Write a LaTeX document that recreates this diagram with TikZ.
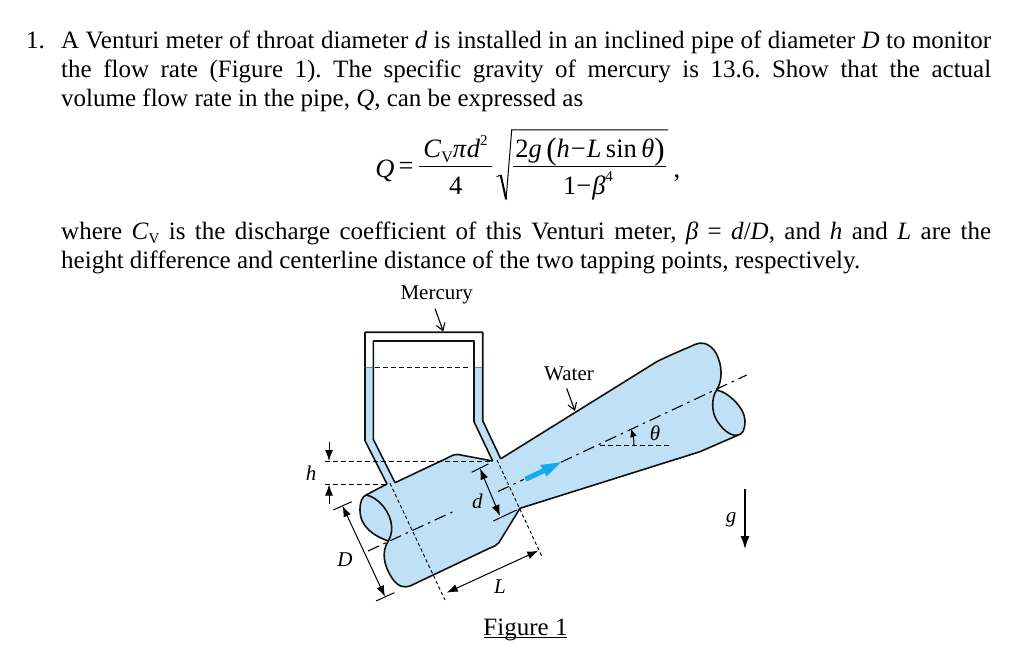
\documentclass[tikz,border=0pt]{standalone}
\usepackage{fontspec}
\setmainfont{Liberation Serif}
\usetikzlibrary{arrows.meta}
\definecolor{water}{HTML}{BFE0F5}
\definecolor{flow}{HTML}{12ABEB}
\definecolor{ink}{HTML}{111111}
\newcommand{\bodyfont}{\fontsize{25}{28}\selectfont\frenchspacing}
\newcommand{\labfont}{\fontsize{21}{24}\selectfont}
\newcommand{\eqfont}{\fontsize{26.5}{28}\selectfont}
\newcommand{\subV}{\raisebox{-.3ex}{\fontsize{15}{15}\selectfont V}}
\newcommand{\subVe}{\raisebox{-.35ex}{\fontsize{16}{16}\selectfont V}}
\newcommand{\supe}[1]{\raisebox{1.05ex}{\fontsize{15}{15}\selectfont #1}}
\newcommand{\bigp}[1]{\raisebox{-.12ex}{\fontsize{31}{31}\selectfont #1}}
\newcommand{\just}[1]{\makebox[930pt][s]{#1}}
\tikzset{
 txt/.style={inner sep=0pt,anchor=base west,font=\bodyfont,text=black},
 lab/.style={inner sep=0pt,anchor=base,font=\labfont,text=black},
 eq/.style={inner sep=0pt,anchor=base,font=\eqfont,text=black},
 pipeline/.style={draw=ink,line width=1.6pt,line join=round},
 fine/.style={draw=black,line width=1pt},
 dashline/.style={draw=black,line width=1pt,dash pattern=on 5pt off 3pt},
 dashdot/.style={draw=black,line width=1.1pt,dash pattern=on 12pt off 5pt on 2.5pt off 5pt},
 dim/.style={draw=black,line width=1pt,{Latex[length=11pt,width=8pt]}-{Latex[length=11pt,width=8pt]}},
 onearrow/.style={draw=black,line width=1pt,-{Latex[length=11pt,width=8pt]}},
 barb/.style={draw=black,line width=1.1pt,-{Straight Barb[length=7pt,width=9pt]}},
}
\begin{document}
\begin{tikzpicture}[x=1pt,y=-1pt]
\useasboundingbox (0,0) rectangle (1010,652);
\fill[white] (0,0) rectangle (1010,652);
% text
\node[txt] (num) at (26,49) {1.};
\node[txt] (l1) at (61,49) {\just{A Venturi meter of throat diameter \textit{d} is installed in an inclined pipe of diameter \textit{D} to monitor}};
\node[txt] (l2) at (61,77.5) {\just{the flow rate (Figure 1). The specific gravity of mercury is 13.6. Show that the actual}};
\node[txt] (l3) at (61,106.5) {volume flow rate in the pipe, \textit{Q}, can be expressed as};
\node[txt] (l4) at (61,240) {\just{where \textit{C}\subV{} is the discharge coefficient of this Venturi meter, \textit{β} = \textit{d}/\textit{D}, and \textit{h} and \textit{L} are the}};
\node[txt] (l5) at (61,269) {height difference and centerline distance of the two tapping points, respectively.};
% equation
\node[eq] (eQ) at (385,178) {\textit{Q}};
\node[eq] (eEq) at (406,175) {=};
\node[eq] (eN1) at (455.5,158) {\textit{C}\subVe\textit{π}\textit{d}\supe{2}};
\node[eq] (eD1) at (455.7,194.5) {4};
\node[eq] (eN2) at (590,158) {2\textit{g}\,\bigp{(}\textit{h}\kern1pt−\kern1pt\textit{L}\,sin\,\textit{θ}\bigp{)}};
\node[eq] (eD2) at (588,194.5) {1−\kern1pt\textit{β}\supe{4}};
\node[eq] (eC) at (677,178) {,};
\draw[draw=black,line width=1pt] (419.3,166.7) -- (491.7,166.7);
\draw[draw=black,line width=1pt] (513.3,166.7) -- (666,166.7);
\draw[draw=black,line width=1pt,line join=miter] (496.7,176.7) -- (500.7,175);
\draw[draw=black,line width=2pt,line join=miter] (500.7,175) -- (506,199);
\draw[draw=black,line width=1pt,line join=miter] (506,200) -- (511.7,130) -- (668,130);
% coordinates
\coordinate (LT1) at (387,484); \coordinate (LT2) at (395,482.7);
\coordinate (RT1) at (492.7,461); \coordinate (RT2) at (500.7,458.8);
\coordinate (LE) at (366,495);
\coordinate (LW) at (388.3,541);
\coordinate (RN) at (716.7,390);
\coordinate (RS) at (738.3,435);
\coordinate (TH) at (520,508.3);
% fills
\fill[water] (365,367.3) -- (373.3,367.3) -- (373.3,439.3) -- (LT2) -- (LT1) -- (365,440.7) -- cycle;
\fill[water] (474,367.3) -- (482.7,367.3) -- (482.7,420.7) -- (RT2) -- (RT1) -- (474,421.7) -- cycle;
\fill[water] (LE) -- (LT1) -- (LT2) -- (446.7,458.3) .. controls (451,456) and (454,454.3) .. (458,454.5) -- (RT1) -- (RT2)
 -- (656.7,361.7) .. controls (670,355) and (685,349) .. (695,344.5) .. controls (701,341.5) and (708,343) .. (714,350)
 .. controls (720,358) and (725,376) .. (RN)
 .. controls (728,392) and (745,408) .. (745,421) .. controls (745,431) and (742,434) .. (RS)
 -- (700,451.7) -- (TH) -- (499,542.5) .. controls (497,545) and (495,546) .. (490,548)
 -- (410,586) .. controls (404,588) and (398,587) .. (392,578) .. controls (384,566) and (381,552) .. (LW)
 .. controls (374,536) and (360,527) .. (360,510) .. controls (360,502) and (362,497) .. (LE) -- cycle;
% water level
\draw[flow,line width=1.5pt] (365,367.3) -- (373.3,367.3) (474,367.3) -- (482.7,367.3);
\draw[dashline] (375,367.3) -- (470,367.3);
% outlines
\draw[pipeline] (365,367.3) -- (365,332.3) -- (482.7,332.3) -- (482.7,420.7) -- (RT2);
\draw[pipeline] (365,367.3) -- (365,440.7) -- (LT1);
\draw[pipeline] (LT2) -- (373.3,439.3) -- (373.3,341) -- (474,341) -- (474,421.7) -- (RT1);
\draw[pipeline] (LE) -- (LT1);
\draw[pipeline] (LT2) -- (446.7,458.3) .. controls (451,456) and (454,454.3) .. (458,454.5) -- (RT1);
\draw[pipeline] (RT2) -- (656.7,361.7) .. controls (670,355) and (685,349) .. (695,344.5) .. controls (701,341.5) and (708,343) .. (714,350)
 .. controls (720,358) and (725,376) .. (RN)
 .. controls (728,392) and (745,408) .. (745,421) .. controls (745,431) and (742,434) .. (RS);
\draw[pipeline] (RN) .. controls (711,398) and (712,412) .. (716,419) .. controls (721,428) and (730,437) .. (RS);
\draw[pipeline] (RS) -- (700,451.7) -- (TH) -- (499,542.5) .. controls (497,545) and (495,546) .. (490,548)
 -- (410,586) .. controls (404,588) and (398,587) .. (392,578) .. controls (384,566) and (381,552) .. (LW);
\draw[pipeline] (LW) .. controls (374,536) and (360,527) .. (360,510) .. controls (360,502) and (362,497) .. (LE);
\draw[pipeline] (LE) .. controls (378,497) and (391,512) .. (391.7,527) .. controls (392,533) and (390,538) .. (LW);
% centre line
\coordinate (C1) at (368,551); \coordinate (C2) at (456.7,510);
\coordinate (C3) at (498,491.5); \coordinate (C4) at (524,479.3);
\coordinate (C5) at (561,462.2); \coordinate (C6) at (746.7,375);
\draw[dashdot] (C1) -- (C2);
\draw[dashdot] (C3) -- (C4);
\draw[dashdot] (C5) -- (C6);
% flow arrow
\fill[flow] (524.5,477) -- (542.5,468.5) -- (540,465) -- (560.7,462.3) -- (546.7,476.5) -- (544.7,473) -- (526.5,481.5) -- cycle;
% tapping lines
\coordinate (TA) at (390,483.3); \coordinate (TB) at (445,600);
\coordinate (TC) at (497,460); \coordinate (TD) at (542,556.7);
\draw[draw=black,line width=.9pt,dash pattern=on 3.5pt off 2.5pt] (TA) -- (TB);
\draw[draw=black,line width=.9pt,dash pattern=on 3.5pt off 2.5pt] (TC) -- (TD);
% h
\coordinate (h1) at (325,461); \coordinate (h2) at (325,484);
\draw[dashline] (h1) -- (491.7,461);
\draw[dashline] (h2) -- (386.7,484);
\coordinate (ha) at (329,442); \coordinate (hb) at (329,461);
\coordinate (hc) at (329,503.5); \coordinate (hd) at (329,484.5);
\draw[onearrow] (ha) -- (hb);
\draw[onearrow] (hc) -- (hd);
\node[lab,font=\labfont\itshape] (hL) at (311,480) {h};
% D
\coordinate (Da) at (342.5,505.8); \coordinate (Db) at (385,596.7);
\draw[fine] (333.3,510) -- (351.7,501.7);
\draw[fine] (376,601) -- (394.3,592.7);
\draw[dim] (Da) -- (Db);
\node[lab,font=\labfont\itshape] (DL) at (345,566.5) {D};
% d
\coordinate (da) at (480,468.5); \coordinate (db) at (500,516);
\draw[fine] (471.7,472.3) -- (488.3,464);
\draw[fine] (493.3,521) -- (516.7,510);
\draw[dim] (da) -- (db);
\node[lab,font=\labfont\itshape] (dL) at (477.3,508) {d};
% L
\coordinate (La) at (446.7,592.7); \coordinate (Lb) at (538.3,550.7);
\draw[dim] (La) -- (Lb);
\node[lab,font=\labfont\itshape] (LL) at (500,593.5) {L};
% labels
\node[lab] (merc) at (436.7,299.5) {Mercury};
\coordinate (ma) at (435,308.5); \coordinate (mb) at (443.3,331.5);
\draw[barb] (ma) -- (mb);
\node[lab] (wat) at (569,380.5) {Water};
\coordinate (wa) at (566.7,388.5); \coordinate (wb) at (575,411);
\draw[barb] (wa) -- (wb);
% theta
\coordinate (t1) at (600,445); \coordinate (t2) at (670,445);
\draw[dashline] (t1) -- (t2);
\coordinate (ta) at (634,445); \coordinate (tb) at (631,429);
\draw[draw=black,line width=1pt,-{Latex[length=8pt,width=7pt]}] (ta) .. controls (634,440) and (633,435) .. (tb);
\node[lab,font=\labfont\itshape] (thL) at (655,440) {θ};
% g
\coordinate (ga) at (745,488.5); \coordinate (gb) at (745,549);
\draw[draw=black,line width=1.3pt,-{Latex[length=13pt,width=9pt]}] (ga) -- (gb);
\node[lab,font=\labfont\itshape] (gL) at (731,522) {g};
% figure caption
\node[lab,font=\fontsize{25}{28}\selectfont] (fig) at (525.5,635) {Figure 1};
\draw[draw=black,line width=1pt] (484,637.5) -- (567,637.5);
\end{tikzpicture}
\end{document}
